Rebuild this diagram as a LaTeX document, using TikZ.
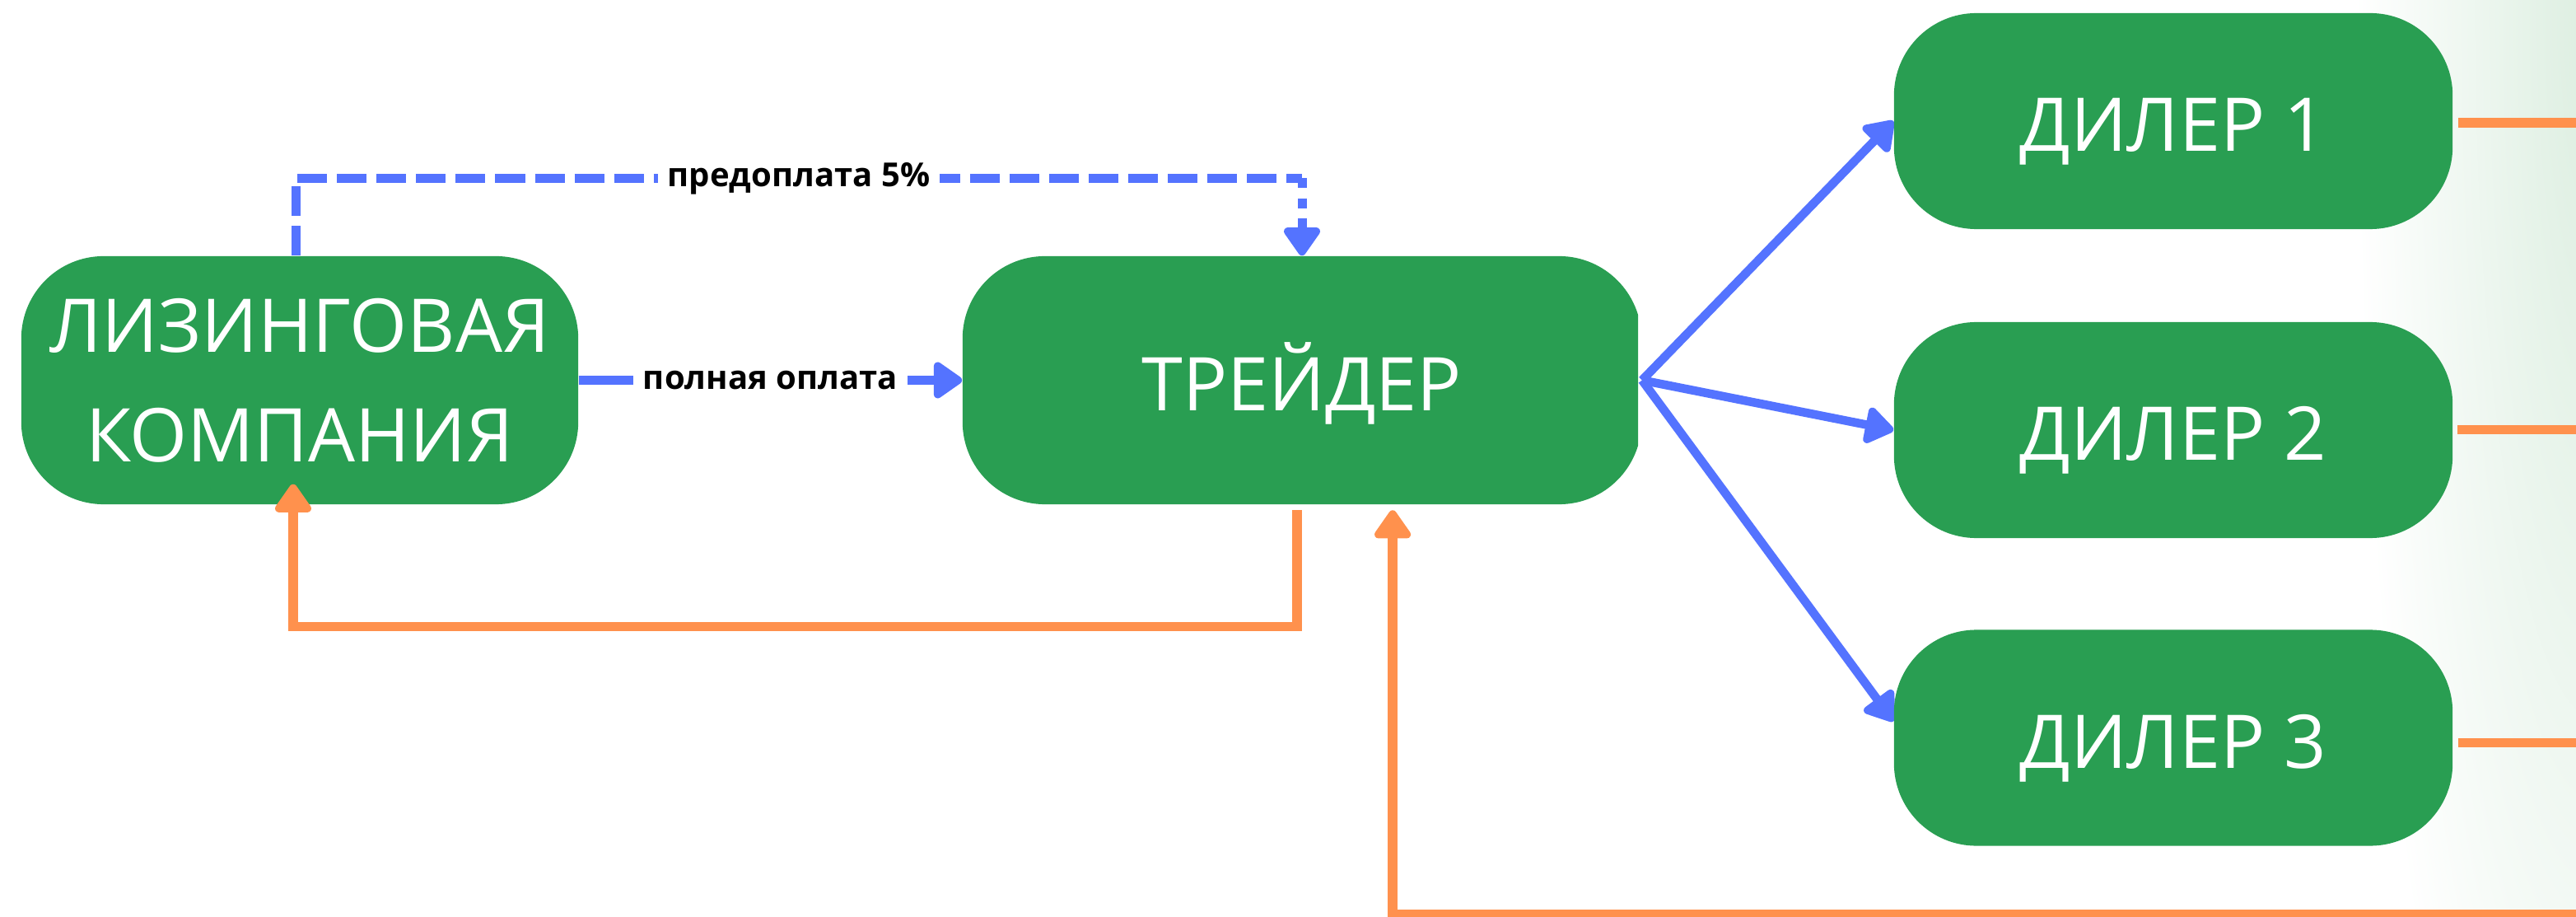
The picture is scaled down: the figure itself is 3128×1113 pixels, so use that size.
\documentclass[tikz,border=0pt]{standalone}
\usepackage{fontspec}
\setmainfont{Open Sans}
\usetikzlibrary{arrows.meta,backgrounds,calc}
\definecolor{grn}{HTML}{299E52}
\definecolor{blu}{HTML}{5473FF}
\definecolor{org}{HTML}{FF914D}
\definecolor{bgg}{HTML}{DCEEE0}
\begin{document}
\begin{tikzpicture}[x=0.01cm,y=-0.01cm,
  box/.style={fill=grn, rounded corners=1cm, text=white, inner sep=0pt, align=center,
    font=\fontsize{25.6pt}{37.8pt}\selectfont},
  onebox/.style={box, text height=0.73cm, text depth=0pt},
  lbl/.style={fill=white, text=black, inner sep=0.12cm,
    font=\bfseries\fontsize{11.4pt}{13pt}\selectfont},
  tipa/.style={-{Triangle[length=0.38cm,width=0.5cm,round]}},
  bluearr/.style={draw=blu, line width=0.105cm, tipa},
  blueline/.style={draw=blu, line width=0.11cm},
  longdash/.style={dash pattern=on 0.36cm off 0.12cm},
  shortdash/.style={dash pattern=on 0.12cm off 0.12cm},
  orline/.style={draw=org, line width=0.115cm, line join=miter},
  orarr/.style={orline, tipa}
]
\useasboundingbox (0,0) rectangle (3128,1113);

% nodes
\node[box, minimum width=6.76cm, minimum height=3.01cm] (lc) at (364,461.5) {ЛИЗИНГОВАЯ\\КОМПАНИЯ};
\begin{scope}
  \clip (0,0) rectangle (1989,1113);
  \node[onebox, minimum width=8.24cm, minimum height=3.01cm] (tr) at (1581,461.5) {ТРЕЙДЕР};
\end{scope}
\node[onebox, minimum width=6.78cm, minimum height=2.62cm] (d1) at (2639,147) {ДИЛЕР 1};
\node[onebox, minimum width=6.78cm, minimum height=2.62cm] (d2) at (2639,522) {ДИЛЕР 2};
\node[onebox, minimum width=6.78cm, minimum height=2.62cm] (d3) at (2639,895.5) {ДИЛЕР 3};

% free ends
\coordinate (p1) at (359,216.5);
\coordinate (p2) at (1581,216.5);
\coordinate (e1) at (3140,149);
\coordinate (e2) at (3140,521.5);
\coordinate (e3) at (3140,901.5);
\coordinate (e4) at (3140,1110);

\begin{pgfonlayer}{background}
  \begin{scope}
    \clip (0,0) rectangle (3128,1113);
    \shade[inner color=bgg, outer color=white] (3150,20) ellipse [x radius=2.9cm, y radius=17cm];
  \end{scope}
  % trader to dealers
  \draw[bluearr] (tr.east) -- (d1.west);
  \draw[bluearr] (tr.east) -- (d2.west);
  \draw[bluearr] (tr.east) -- ([yshift=0.2cm]d3.west);
\end{pgfonlayer}

% leasing -> trader, full payment
\draw[bluearr] (lc.east) -- (tr.west) node[midway, lbl] {полная оплата};

% prepayment dashed
\draw[blueline, longdash] (lc.north -| p1) -- (p1) -- (p2) node[midway, lbl] {предоплата 5\%};
\draw[blueline, shortdash, tipa] (p2) -- (tr.north);

% orange returns
\draw[orarr] ([xshift=-0.06cm, yshift=-0.065cm]tr.south) -- ++(0,141) -| ([xshift=-0.08cm, yshift=0.25cm]lc.south);
\draw[orarr] (e4) -| ([xshift=1.1cm, yshift=-0.065cm]tr.south);

% dealer stubs
\draw[orline] ([xshift=0.06cm]d1.east |- e1) -- (e1);
\draw[orline] ([xshift=0.05cm]d2.east |- e2) -- (e2);
\draw[orline] ([xshift=0.06cm]d3.east |- e3) -- (e3);
\end{tikzpicture}
\end{document}
